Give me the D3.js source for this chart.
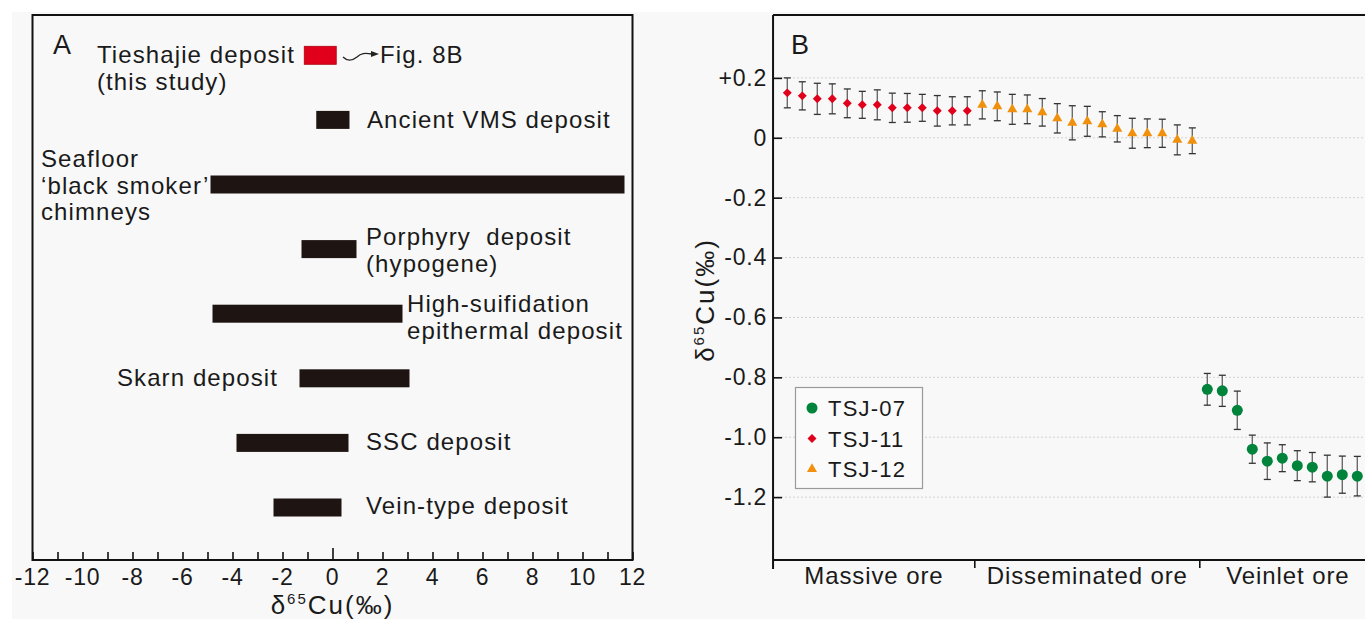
<!DOCTYPE html>
<html>
<head>
<meta charset="utf-8">
<script src="https://cdn.jsdelivr.net/npm/d3@7"></script>
<style>
  html, body { margin: 0; padding: 0; background: #fff; }
  svg { display: block; font-family: "Liberation Sans", Arial, sans-serif; }
  text { fill: #1a1a1a; }
</style>
</head>
<body>
<svg id="fig" width="1365" height="619"></svg>
<script>
// ---- panel A: d65Cu ranges by deposit type ----
var depositNames = ["Tieshajie", "Ancient VMS", "Seafloor chimneys", "Porphyry", "High-sulfidation", "Skarn", "SSC", "Vein-type"];
var depositMin = [-1.13, -0.65, -4.88, -1.24, -4.8, -1.32, -3.84, -2.36];
var depositMax = [0.15, 0.68, 11.68, 0.96, 2.8, 3.08, 0.64, 0.36];
var xTicksA = d3.range(-12, 13, 1);

// ---- panel B: Tieshajie samples ----
var tsj11Val = [0.15, 0.14, 0.13, 0.13, 0.115, 0.11, 0.11, 0.10, 0.10, 0.10, 0.09, 0.09, 0.09];
var tsj11Err = [0.05, 0.047, 0.052, 0.05, 0.048, 0.045, 0.05, 0.049, 0.048, 0.045, 0.051, 0.047, 0.047];
var tsj12Val = [0.11, 0.105, 0.095, 0.095, 0.085, 0.065, 0.05, 0.055, 0.045, 0.03, 0.015, 0.015, 0.015, -0.007, -0.01];
var tsj12Err = [0.047, 0.048, 0.05, 0.048, 0.046, 0.049, 0.057, 0.05, 0.042, 0.044, 0.05, 0.048, 0.047, 0.05, 0.043];
var tsj07Val = [-0.84, -0.845, -0.91, -1.04, -1.08, -1.07, -1.095, -1.10, -1.13, -1.125, -1.13];
var tsj07Err = [0.053, 0.052, 0.064, 0.047, 0.061, 0.045, 0.05, 0.049, 0.07, 0.062, 0.066];
var oreGroups = ["Massive ore", "Disseminated ore", "Veinlet ore"];
var oreBounds = [-0.95, 12.5, 27.5, 39.25];   // sample-index boundaries
var yTicksB = [-1.2, -1.0, -0.8, -0.6, -0.4, -0.2, 0, 0.2];
var yTickLabelsB = ["-1.2", "-1.0", "-0.8", "-0.6", "-0.4", "-0.2", "0", "+0.2"];
var seriesNames = ["TSJ-07", "TSJ-11", "TSJ-12"];

var RED = "#e0001b", ORANGE = "#f0900c", GREEN = "#00843c", DARK = "#1e1512";

var svg = d3.select("#fig");
svg.append("rect").attr("x", 12).attr("y", 12).attr("width", 1365).attr("height", 619).attr("fill", "#f8f8f8");

// ================= Panel A =================
var frameTop = 15, frameBot = 560;
var xA = d3.scaleLinear().domain([-12, 12]).range([32.5, 632.5]);
var yA = d3.scalePoint().domain(depositNames).range([23, 539.8]).padding(0.5);

var gA = svg.append("g");
gA.append("rect").attr("x", xA(-12)).attr("y", frameTop).attr("width", xA(12) - xA(-12)).attr("height", frameBot - frameTop)
  .attr("fill", "none").attr("stroke", "#111").attr("stroke-width", 2);

var axA = gA.append("g").attr("transform", "translate(0," + frameBot + ")")
  .call(d3.axisBottom(xA).tickValues(xTicksA).tickSize(0).tickFormat(""));
axA.select(".domain").remove();
axA.selectAll(".tick line").attr("y2", function(d) { return d === 0 ? -12 : -8; })
  .attr("stroke", "#111").attr("stroke-width", 1.6);
xTicksA.filter(function(d) { return d % 2 === 0; }).forEach(function(d) {
  gA.append("text").attr("x", xA(d)).attr("y", 585).attr("text-anchor", "middle")
    .attr("font-size", 23).attr("letter-spacing", 0.8).text(d);
});
var tA = gA.append("text").attr("x", xA(0)).attr("y", 614).attr("text-anchor", "middle")
  .attr("font-size", 26).attr("letter-spacing", 2);
tA.append("tspan").text("δ");
tA.append("tspan").attr("font-size", 15).attr("dy", -10).text("65");
tA.append("tspan").attr("dy", 10).text("Cu(‰)");

gA.selectAll("rect.bar").data(depositNames).enter().append("rect").attr("class", "bar")
  .attr("x", function(d, i) { return xA(depositMin[i]); })
  .attr("width", function(d, i) { return xA(depositMax[i]) - xA(depositMin[i]); })
  .attr("y", function(d) { return yA(d) - 9; })
  .attr("height", 18)
  .attr("fill", function(d, i) { return i === 0 ? RED : DARK; })
  .attr("stroke", function(d, i) { return i === 0 ? "#b00010" : "none"; })
  .attr("stroke-width", 0.8);

gA.append("text").attr("x", 53).attr("y", 54).attr("font-size", 27).text("A");

var labA = [
  {lines: ["Tieshajie deposit", "(this study)"], x: 97, y: 63},
  {lines: ["Ancient VMS deposit"], x: 367, y: 128},
  {lines: ["Seafloor", "‘black smoker’", "chimneys"], x: 41, y: 167},
  {lines: ["Porphyry  deposit", "(hypogene)"], x: 366, y: 245},
  {lines: ["High-suifidation", "epithermal deposit"], x: 407, y: 312},
  {lines: ["Skarn deposit"], x: 278, y: 386, anchor: "end"},
  {lines: ["SSC deposit"], x: 366, y: 450},
  {lines: ["Vein-type deposit"], x: 366, y: 514}
];
labA.forEach(function(l) {
  l.lines.forEach(function(s, j) {
    gA.append("text").attr("x", l.x).attr("y", l.y + j * 26.5)
      .attr("text-anchor", l.anchor || "start").attr("font-size", 24).attr("letter-spacing", 1.1)
      .style("white-space", "pre").text(s);
  });
});
// squiggle arrow to Fig. 8B
gA.append("path").attr("d", "M343,57 C347,61 352,61 357,57 C361,53 365,53 372,54")
  .attr("fill", "none").attr("stroke", "#222").attr("stroke-width", 1.3);
gA.append("path").attr("d", "M371,51 L379,54 L371,57 Z").attr("fill", "#222");
gA.append("text").attr("x", 380).attr("y", 63).attr("font-size", 24).attr("letter-spacing", 1.1).text("Fig. 8B");

// ================= Panel B =================
var xB = d3.scaleLinear().domain([0, 38]).range([787.3, 1357.3]);
var yB = d3.scaleLinear().domain([-1.41, 0.41]).range([frameBot, frameTop]);
var leftB = xB(oreBounds[0]);

var gB = svg.append("g");
// grid
gB.selectAll("line.grid").data(yTicksB).enter().append("line").attr("class", "grid")
  .attr("x1", leftB).attr("x2", 1365).attr("y1", function(d) { return yB(d); }).attr("y2", function(d) { return yB(d); })
  .attr("stroke", "#c8c8c8").attr("stroke-width", 0.8).attr("stroke-dasharray", "2,2");

var axB = gB.append("g").attr("transform", "translate(" + leftB + ",0)")
  .call(d3.axisLeft(yB).tickValues(yTicksB).tickSize(-9).tickPadding(6)
    .tickFormat(function(d, i) { return yTickLabelsB[i]; }));
axB.select(".domain").remove();
axB.selectAll(".tick line").attr("stroke", "#111").attr("stroke-width", 1.6);
axB.selectAll(".tick text").attr("font-size", 23).attr("letter-spacing", 0.8).attr("fill", "#1a1a1a")
  .attr("font-family", "Liberation Sans, Arial, sans-serif");

gB.append("line").attr("x1", leftB).attr("x2", leftB).attr("y1", frameTop).attr("y2", frameBot + 9)
  .attr("stroke", "#111").attr("stroke-width", 2);
gB.append("line").attr("x1", leftB).attr("x2", 1365).attr("y1", frameTop).attr("y2", frameTop)
  .attr("stroke", "#111").attr("stroke-width", 2);
gB.append("line").attr("x1", leftB).attr("x2", 1365).attr("y1", frameBot).attr("y2", frameBot)
  .attr("stroke", "#111").attr("stroke-width", 2);
oreBounds.slice(1).forEach(function(b) {
  gB.append("line").attr("x1", xB(b)).attr("x2", xB(b)).attr("y1", frameBot).attr("y2", frameBot + 8)
    .attr("stroke", "#111").attr("stroke-width", 1.6);
});
oreGroups.forEach(function(g, i) {
  gB.append("text").attr("x", (xB(oreBounds[i]) + xB(oreBounds[i + 1])) / 2).attr("y", 584)
    .attr("text-anchor", "middle").attr("font-size", 24).attr("letter-spacing", 0.9).text(g);
});

var yl = gB.append("text").attr("transform", "translate(714,300) rotate(-90)").attr("text-anchor", "middle")
  .attr("font-size", 26).attr("letter-spacing", 2);
yl.append("tspan").text("δ");
yl.append("tspan").attr("font-size", 15).attr("dy", -10).text("65");
yl.append("tspan").attr("dy", 10).text("Cu(‰)");

gB.append("text").attr("x", 791).attr("y", 54).attr("font-size", 27).text("B");

var samples = [];
tsj11Val.forEach(function(v, i) { samples.push({s: "TSJ-11", v: v, e: tsj11Err[i]}); });
tsj12Val.forEach(function(v, i) { samples.push({s: "TSJ-12", v: v, e: tsj12Err[i]}); });
tsj07Val.forEach(function(v, i) { samples.push({s: "TSJ-07", v: v, e: tsj07Err[i]}); });
samples.forEach(function(d, i) { d.i = i; });

var eb = gB.selectAll("g.eb").data(samples).enter().append("g").attr("class", "eb");
eb.append("line").attr("x1", function(d) { return xB(d.i); }).attr("x2", function(d) { return xB(d.i); })
  .attr("y1", function(d) { return yB(d.v + d.e); }).attr("y2", function(d) { return yB(d.v - d.e); })
  .attr("stroke", "#6a6a6a").attr("stroke-width", 1.4);
[1, -1].forEach(function(sg) {
  eb.append("line").attr("x1", function(d) { return xB(d.i) - 3.5; }).attr("x2", function(d) { return xB(d.i) + 3.5; })
    .attr("y1", function(d) { return yB(d.v + sg * d.e); }).attr("y2", function(d) { return yB(d.v + sg * d.e); })
    .attr("stroke", "#333").attr("stroke-width", 1.3);
});

function marker(sel, s) {
  if (s === "TSJ-07") {
    sel.append("circle").attr("r", 5.5).attr("fill", GREEN);
  } else if (s === "TSJ-11") {
    sel.append("path").attr("d", d3.symbol(d3.symbolSquare, 40)()).attr("transform", "rotate(45)").attr("fill", RED);
  } else {
    sel.append("path").attr("d", d3.symbol(d3.symbolTriangle, 44)()).attr("fill", ORANGE);
  }
}
samples.forEach(function(d) {
  var g = gB.append("g").attr("transform", "translate(" + xB(d.i) + "," + yB(d.v) + ")");
  marker(g, d.s);
});

// legend
var lg = gB.append("g");
lg.append("rect").attr("x", 795.5).attr("y", 387.5).attr("width", 127).attr("height", 101)
  .attr("fill", "#fafafa").attr("stroke", "#9a9a9a").attr("stroke-width", 1.2);
seriesNames.forEach(function(s, i) {
  var yy = 408 + i * 30.5;
  marker(lg.append("g").attr("transform", "translate(812," + yy + ")"), s);
  lg.append("text").attr("x", 828).attr("y", yy + 8).attr("font-size", 22).attr("letter-spacing", 1.2).text(s);
});
</script>
</body>
</html>
